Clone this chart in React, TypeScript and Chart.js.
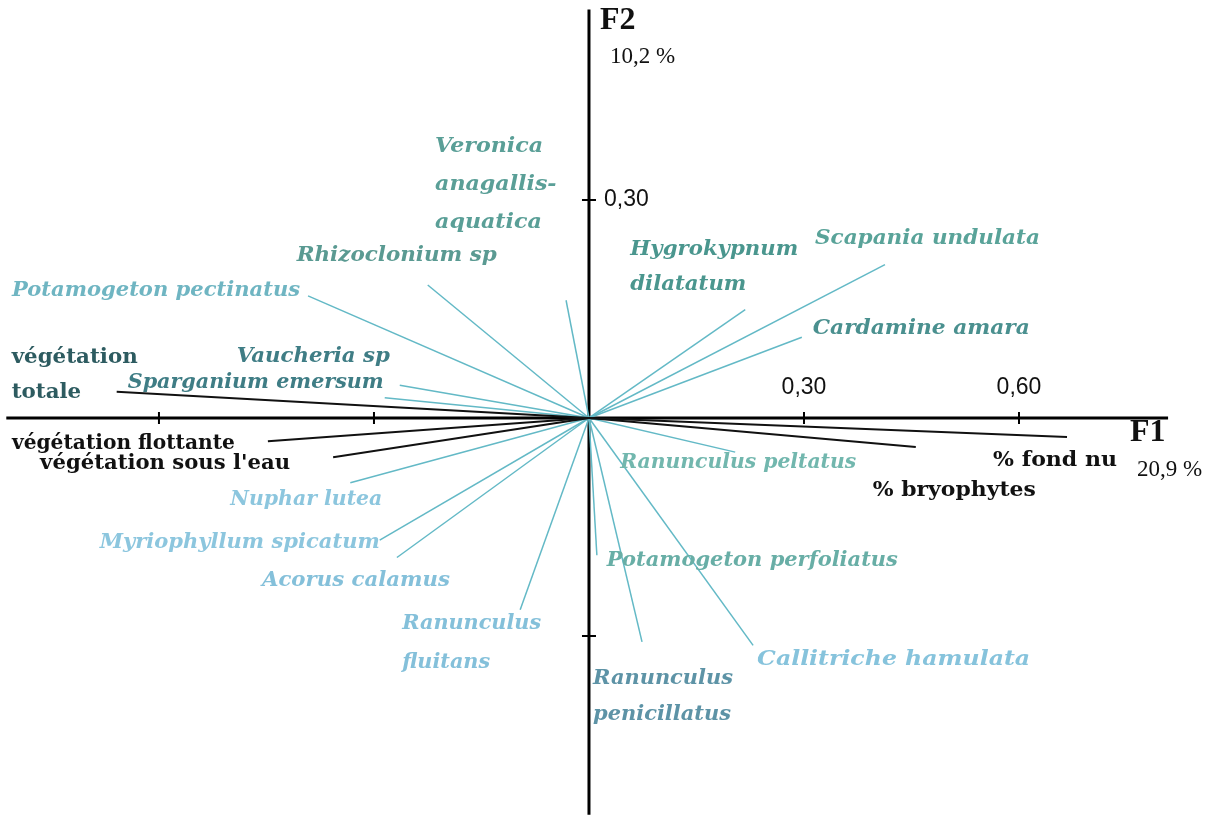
import React, { useEffect, useRef } from "react";
import { Chart, registerables } from "chart.js";

Chart.register(...registerables);

// ---- Data (loadings on F1 / F2) ----
const variables: string[] = [
  "végétation totale",
  "végétation flottante",
  "végétation sous l'eau",
  "% fond nu",
  "% bryophytes",
  "Scapania undulata",
  "Hygrokypnum dilatatum",
  "Cardamine amara",
  "Potamogeton pectinatus",
  "Rhizoclonium sp",
  "Veronica anagallis-aquatica",
  "Vaucheria sp",
  "Sparganium emersum",
  "Ranunculus peltatus",
  "Nuphar lutea",
  "Myriophyllum spicatum",
  "Acorus calamus",
  "Ranunculus fluitans",
  "Potamogeton perfoliatus",
  "Ranunculus penicillatus",
  "Callitriche hamulata",
];
const f1Values: number[] = [
  -0.659, -0.448, -0.357, 0.667, 0.456, 0.413, 0.218, 0.297, -0.392, -0.225,
  -0.032, -0.264, -0.285, 0.204, -0.333, -0.292, -0.268, -0.096, 0.011, 0.074,
  0.229,
];
const f2Values: number[] = [
  0.036, -0.032, -0.054, -0.026, -0.04, 0.211, 0.149, 0.111, 0.168, 0.183,
  0.162, 0.045, 0.028, -0.047, -0.089, -0.168, -0.192, -0.264, -0.189, -0.308,
  -0.313,
];
const isEnvironment: boolean[] = [
  true, true, true, true, true, false, false, false, false, false, false,
  false, false, false, false, false, false, false, false, false, false,
];
const f1Ticks: number[] = [-0.6, -0.3, 0.3, 0.6];
const f2Ticks: number[] = [-0.3, 0.3];
const f1TickLabels: string[] = ["0,30", "0,60"];
const f1TickLabelValues: number[] = [0.3, 0.6];
const f2TickLabels: string[] = ["0,30"];
const f2TickLabelValues: number[] = [0.3];
const f1Range: number[] = [-0.813, 0.808];
const f2Range: number[] = [-0.546, 0.562];
const axisTitles: string[] = ["F1", "F2"];
const axisInertia: string[] = ["20,9 %", "10,2 %"];

// ---- Label layout (pixel offsets from the line end, display lines, style) ----
type LabelLayout = {
  lines: string[];
  dx: number;
  dy: number;
  spacing: number;
  width: number;
  color: string;
  env: boolean;
};
const labelLayout: LabelLayout[] = [
  { lines: ["végétation", "totale"], dx: -105, dy: -34, spacing: 35, width: 126, color: "#2d5b60", env: true },
  { lines: ["végétation flottante"], dx: -256, dy: 2, spacing: 0, width: 223, color: "#111111", env: true },
  { lines: ["végétation sous l'eau"], dx: -293, dy: 6, spacing: 0, width: 250, color: "#111111", env: true },
  { lines: ["% fond nu"], dx: -74, dy: 24, spacing: 0, width: 124, color: "#111111", env: true },
  { lines: ["% bryophytes"], dx: -43, dy: 43, spacing: 0, width: 163, color: "#111111", env: true },
  { lines: ["Scapania undulata"], dx: -70, dy: -26, spacing: 0, width: 225, color: "#59a399", env: false },
  { lines: ["Hygrokypnum", "dilatatum"], dx: -115, dy: -60, spacing: 35, width: 168, color: "#4a968e", env: false },
  { lines: ["Cardamine amara"], dx: 11, dy: -9, spacing: 0, width: 217, color: "#4a908f", env: false },
  { lines: ["Potamogeton pectinatus"], dx: -296, dy: -5, spacing: 0, width: 288, color: "#6fb5c2", env: false },
  { lines: ["Rhizoclonium sp"], dx: -131, dy: -29, spacing: 0, width: 200, color: "#5a9a92", env: false },
  { lines: ["Veronica", "anagallis-", "aquatica"], dx: -131, dy: -154, spacing: 38, width: 108, color: "#5a9f97", env: false },
  { lines: ["Vaucheria sp"], dx: -163, dy: -29, spacing: 0, width: 153, color: "#3f7d85", env: false },
  { lines: ["Sparganium emersum"], dx: -257, dy: -15, spacing: 0, width: 256, color: "#3f7d85", env: false },
  { lines: ["Ranunculus peltatus"], dx: -115, dy: 10, spacing: 0, width: 236, color: "#72b7ae", env: false },
  { lines: ["Nuphar lutea"], dx: -120, dy: 17, spacing: 0, width: 152, color: "#8cc6de", env: false },
  { lines: ["Myriophyllum spicatum"], dx: -280, dy: 2, spacing: 0, width: 280, color: "#8cc6de", env: false },
  { lines: ["Acorus calamus"], dx: -135, dy: 23, spacing: 0, width: 188, color: "#84c0da", env: false },
  { lines: ["Ranunculus", "fluitans"], dx: -118, dy: 14, spacing: 39, width: 139, color: "#84c0da", env: false },
  { lines: ["Potamogeton perfoliatus"], dx: 10, dy: 5, spacing: 0, width: 291, color: "#68aea6", env: false },
  { lines: ["Ranunculus", "penicillatus"], dx: -49, dy: 37, spacing: 36, width: 140, color: "#5d93a6", env: false },
  { lines: ["Callitriche hamulata"], dx: 4, dy: 14, spacing: 0, width: 273, color: "#86c3dc", env: false },
];

const W = 1230;
const H = 817;

const biplotPlugin = {
  id: "biplot",
  beforeDatasetsDraw(chart: any) {
    const ctx = chart.ctx;
    const xs = chart.scales.x;
    const ys = chart.scales.y;
    const x0 = xs.getPixelForValue(0);
    const y0 = ys.getPixelForValue(0);
    ctx.save();
    ctx.strokeStyle = "#000";
    ctx.lineWidth = 3;
    ctx.beginPath();
    ctx.moveTo(xs.getPixelForValue(f1Range[0]), y0);
    ctx.lineTo(xs.getPixelForValue(f1Range[1]), y0);
    ctx.moveTo(x0, ys.getPixelForValue(f2Range[1]));
    ctx.lineTo(x0, ys.getPixelForValue(f2Range[0]));
    ctx.stroke();
    ctx.lineWidth = 2;
    ctx.beginPath();
    f1Ticks.forEach((t) => {
      const px = xs.getPixelForValue(t);
      ctx.moveTo(px, y0 - 6);
      ctx.lineTo(px, y0 + 6);
    });
    f2Ticks.forEach((t) => {
      const py = ys.getPixelForValue(t);
      ctx.moveTo(x0 - 7, py);
      ctx.lineTo(x0 + 7, py);
    });
    ctx.stroke();
    ctx.restore();
  },
  afterDatasetsDraw(chart: any) {
    const ctx = chart.ctx;
    const xs = chart.scales.x;
    const ys = chart.scales.y;
    const x0 = xs.getPixelForValue(0);
    const y0 = ys.getPixelForValue(0);
    ctx.save();
    ctx.textBaseline = "middle";
    // tick labels
    ctx.fillStyle = "#111";
    ctx.font = "23px 'Liberation Sans Narrow', 'Liberation Sans', Arial, sans-serif";
    ctx.textAlign = "center";
    f1TickLabels.forEach((t, i) => {
      ctx.fillText(t, xs.getPixelForValue(f1TickLabelValues[i]), y0 - 30);
    });
    ctx.textAlign = "left";
    f2TickLabels.forEach((t, i) => {
      ctx.fillText(t, x0 + 15, ys.getPixelForValue(f2TickLabelValues[i]));
    });
    // axis titles
    ctx.font = "bold 32px 'Liberation Serif', 'Times New Roman', serif";
    ctx.fillText(axisTitles[0], xs.getPixelForValue(f1Range[1]) - 38, y0 + 15);
    ctx.fillText(axisTitles[1], x0 + 11, ys.getPixelForValue(f2Range[1]) + 11);
    ctx.font = "23px 'Liberation Serif', 'Times New Roman', serif";
    ctx.fillText(axisInertia[0], xs.getPixelForValue(f1Range[1]) - 31, y0 + 52);
    ctx.fillText(axisInertia[1], x0 + 21, ys.getPixelForValue(f2Range[1]) + 47);

    // variable labels
    variables.forEach((_, i) => {
      const lay = labelLayout[i];
      const ex = xs.getPixelForValue(f1Values[i]);
      const ey = ys.getPixelForValue(f2Values[i]);
      ctx.font = lay.env
        ? "900 21px 'DejaVu Serif', serif"
        : "italic bold 21px 'DejaVu Serif', serif";
      ctx.fillStyle = lay.color;
      const measured = ctx.measureText(lay.lines[0]).width;
      const sx = lay.width / measured;
      ctx.save();
      ctx.translate(ex + lay.dx, ey + lay.dy);
      ctx.scale(sx, 1);
      lay.lines.forEach((ln, k) => {
        ctx.fillText(ln, 0, k * lay.spacing);
      });
      ctx.restore();
    });
    ctx.restore();
  },
};

export default function App() {
  const canvasRef = useRef<HTMLCanvasElement | null>(null);

  useEffect(() => {
    const canvas = canvasRef.current;
    if (!canvas) return;
    const datasets = variables.map((name, i) => ({
      label: name,
      data: [
        { x: 0, y: 0 },
        { x: f1Values[i], y: f2Values[i] },
      ],
      showLine: true,
      borderColor: isEnvironment[i] ? "#111111" : "#63b9c6",
      borderWidth: isEnvironment[i] ? 2 : 1.5,
      pointRadius: 0,
      pointHoverRadius: 0,
      fill: false,
    }));
    const chart = new Chart(canvas, {
      type: "scatter",
      data: { datasets },
      options: {
        animation: false,
        responsive: false,
        maintainAspectRatio: false,
        layout: { padding: 0 },
        plugins: {
          legend: { display: false },
          tooltip: { enabled: false },
        },
        events: [],
        scales: {
          x: { type: "linear", min: -0.8218, max: 0.8944, display: false },
          y: { type: "linear", min: -0.5491, max: 0.5752, display: false },
        },
      },
      plugins: [biplotPlugin],
    });
    return () => chart.destroy();
  }, []);

  return (
    <div
      style={{
        position: "fixed",
        left: 0,
        top: 0,
        width: W,
        height: H,
        background: "#ffffff",
      }}
    >
      <canvas ref={canvasRef} width={W} height={H} style={{ width: W, height: H, display: "block" }} />
    </div>
  );
}
